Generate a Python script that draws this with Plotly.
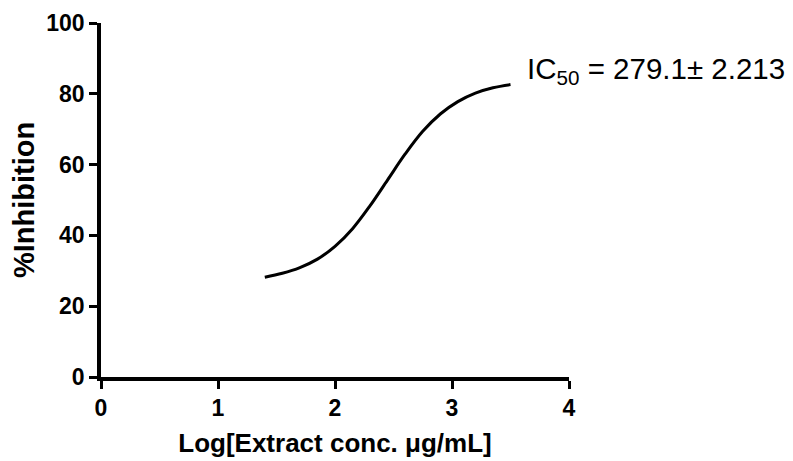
import plotly.graph_objects as go

# Fitted dose-response curve
log_conc = [1.40, 1.55, 1.70, 1.85, 2.00, 2.15, 2.30, 2.45, 2.60, 2.75, 2.90, 3.05, 3.20, 3.35, 3.50]
inhibition = [28.2, 29.3, 30.9, 33.3, 36.9, 41.9, 48.4, 55.7, 63.0, 69.4, 74.3, 77.8, 80.2, 81.7, 82.6]

x_ticks = [0, 1, 2, 3, 4]
y_ticks = [0, 20, 40, 60, 80, 100]

fig = go.Figure()
fig.add_trace(go.Scatter(
    x=log_conc, y=inhibition, mode="lines",
    line=dict(color="black", width=3, shape="spline", smoothing=1.0),
    showlegend=False, hoverinfo="skip",
))

axis_common = dict(
    showline=True, linecolor="black", linewidth=3.5,
    ticks="outside", ticklen=8, tickwidth=3, tickcolor="black",
    showgrid=False, zeroline=False, automargin=False,
    tickfont=dict(family="Liberation Sans, Arial, sans-serif", size=23, color="black", weight="bold"),
)

fig.update_xaxes(
    range=[0, 4], tickvals=x_ticks, ticktext=[str(v) for v in x_ticks],
    title=dict(text="Log[Extract conc. μg/mL]", standoff=14,
               font=dict(family="Liberation Sans, Arial, sans-serif", size=26, color="black", weight="bold")),
    **axis_common,
)
fig.update_yaxes(
    range=[0, 100], tickvals=y_ticks, ticktext=[str(v) for v in y_ticks],
    title=dict(text="%Inhibition", standoff=16,
               font=dict(family="Liberation Sans, Arial, sans-serif", size=29, color="black", weight="bold")),
    **axis_common,
)

fig.add_annotation(
    x=3.62, y=86.6, xref="x", yref="y", xanchor="left", yanchor="middle",
    text="IC<sub>50</sub> = 279.1± 2.213", showarrow=False,
    font=dict(family="Liberation Sans, Arial, sans-serif", size=29.5, color="black"),
)

# the page body adds an 8px offset, so the figure is sized to fit the window
fig.update_layout(
    width=785, height=453,
    margin=dict(l=93, r=224, t=15, b=84),
    paper_bgcolor="white", plot_bgcolor="white",
)

fig.write_html("out.html")
